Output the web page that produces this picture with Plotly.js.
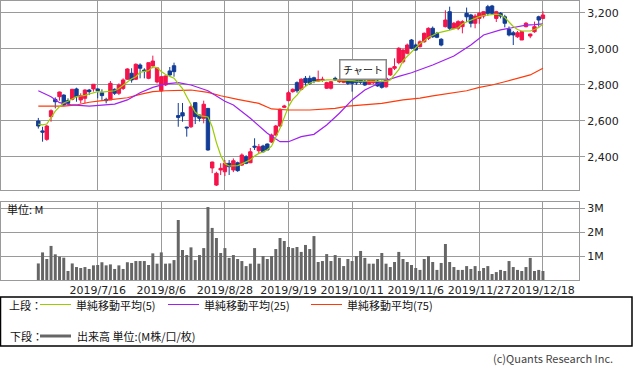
<!DOCTYPE html>
<html>
<head>
<meta charset="utf-8">
<script src="https://cdn.plot.ly/plotly-3.0.1.min.js"></script>
<style>html,body{margin:0;padding:0;background:#fff;}#chart{width:633px;height:371px;}</style>
</head>
<body>
<div id="chart"></div>
<script>
// ---- data (trading-day index 0..119) ----
const tickIdx = [14, 29, 44, 59, 74, 89, 104, 119];
const tickLabels = ["2019/7/16", "2019/8/6", "2019/8/28", "2019/9/19", "2019/10/11", "2019/11/6", "2019/11/27", "2019/12/18"];

const open = [2600,2545,2498,2624,2720,2735,2744,2713,2721,2778,
2717,2726,2772,2778,2778,2757,2720,2717,2776,2754,
2781,2832,2865,2832,2911,2883,2837,2906,2817,2768,
2800,2878,2907,2630,2646,2566,2568,2702,2633,2615,
2670,2339,2244,2328,2318,2365,2328,2368,2355,2401,
2368,2460,2435,2461,2472,2483,2522,2572,2676,2713,
2763,2813,2776,2837,2837,2840,2822,2825,2782,2782,
2837,2818,2815,2828,2828,2825,2828,2822,2805,2812,
2822,2818,2790,2856,2893,2924,2929,2976,3050,3022,
3013,3040,3059,3115,3087,3054,3124,3207,3115,3115,
3124,3198,3189,3143,3170,3183,3235,3239,3170,3198,
3179,3109,3090,3068,3050,3124,3072,3096,3179,3170];
const high = [2617,2568,2578,2665,2731,2763,2748,2726,2778,2785,
2754,2776,2778,2804,2781,2776,2729,2822,2781,2809,
2837,2893,2893,2920,2920,2893,2924,2963,2895,2850,
2852,2900,2924,2700,2700,2568,2689,2704,2635,2713,
2672,2374,2318,2365,2383,2383,2392,2374,2420,2410,
2450,2504,2472,2468,2475,2530,2578,2670,2690,2768,
2781,2820,2837,2850,2852,2846,2880,2846,2818,2822,
2846,2835,2840,2837,2835,2835,2840,2830,2835,2840,
2830,2825,2840,2895,2948,3010,3000,3030,3055,3030,
3048,3092,3120,3125,3095,3060,3215,3235,3150,3160,
3160,3230,3195,3195,3205,3210,3245,3245,3212,3205,
3190,3125,3100,3100,3100,3150,3085,3152,3185,3210];
const low = [2558,2485,2490,2596,2670,2713,2685,2689,2715,2707,
2698,2698,2744,2763,2726,2717,2698,2717,2744,2744,
2772,2828,2813,2828,2837,2837,2832,2893,2809,2761,
2795,2850,2846,2568,2596,2513,2561,2583,2597,2587,
2435,2310,2239,2300,2294,2300,2316,2318,2350,2360,
2366,2439,2422,2425,2439,2478,2518,2568,2672,2710,
2757,2757,2770,2795,2800,2810,2818,2818,2778,2775,
2822,2812,2810,2800,2763,2800,2805,2795,2800,2805,
2790,2780,2785,2850,2883,2915,2920,2970,2998,2990,
3008,3035,3050,3062,3060,3015,3120,3105,3110,3105,
3087,3150,3120,3115,3140,3170,3185,3190,3150,3170,
3120,3070,3022,3062,3050,3120,3060,3090,3124,3165];
const close = [2572,2538,2572,2657,2707,2761,2689,2698,2776,2735,
2741,2772,2763,2804,2768,2741,2713,2809,2754,2800,
2828,2889,2828,2915,2893,2878,2924,2933,2895,2846,
2850,2856,2874,2620,2628,2562,2679,2624,2615,2693,
2439,2372,2309,2337,2365,2346,2379,2324,2411,2365,
2429,2455,2457,2429,2439,2522,2572,2665,2683,2757,
2776,2768,2832,2813,2809,2822,2830,2832,2813,2818,
2828,2828,2828,2809,2809,2812,2815,2800,2825,2830,
2795,2787,2837,2893,2902,3004,2994,3022,3004,2994,
3040,3087,3115,3068,3065,3022,3161,3115,3143,3152,
3152,3179,3143,3183,3198,3207,3198,3198,3207,3183,
3143,3078,3078,3090,3096,3143,3083,3124,3161,3189];

const ma5 = [2583,2578,2583,2620,2655,2680,2700,2710,2722,2735,
2739,2742,2750,2757,2763,2760,2762,2763,2768,2780,
2800,2818,2835,2846,2870,2876,2880,2902,2895,2875,
2858,2848,2838,2808,2780,2735,2690,2648,2630,2624,
2622,2568,2480,2410,2362,2350,2350,2352,2362,2375,
2385,2405,2420,2428,2440,2460,2510,2560,2620,2680,
2720,2744,2775,2795,2810,2818,2822,2826,2828,2828,
2828,2828,2828,2826,2824,2822,2822,2820,2818,2818,
2818,2818,2820,2828,2856,2885,2935,2958,2985,3008,
3030,3045,3065,3075,3089,3094,3098,3105,3112,3118,
3140,3150,3161,3170,3180,3186,3189,3194,3194,3189,
3175,3150,3125,3108,3100,3100,3100,3108,3120,3139];

const ma25Idx = [0,3,5,8,12,15,18,21,24,27,30,33,36,40,42,44,46,50,54,57,59,62,65,68,71,74,77,81,85,88,93,98,102,105,109,112,115,117,119];
const ma25Val = [2768,2735,2702,2689,2683,2689,2694,2717,2757,2787,2806,2813,2800,2768,2740,2710,2689,2615,2532,2485,2485,2513,2526,2578,2643,2717,2772,2818,2848,2868,2911,2961,3022,3078,3106,3120,3133,3135,3139];

const ma75Idx = [0,6,9,12,15,18,21,24,27,30,33,36,40,43,47,52,55,59,64,70,73,76,81,86,90,93,97,101,104,107,110,113,116,119];
const ma75Val = [2683,2683,2689,2704,2713,2720,2729,2748,2763,2768,2772,2772,2759,2740,2720,2698,2667,2661,2661,2670,2683,2689,2698,2717,2727,2740,2754,2768,2787,2800,2818,2837,2856,2893];

const volume = [0.69,1.15,0.875,1.42,1.07,0.97,0.93,0.375,0.69,0.54,
0.5,0.54,0.46,0.61,0.625,0.74,0.61,0.65,0.46,0.61,
0.46,0.74,0.71,0.79,0.79,0.79,0.625,1.11,0.68,1.15,
0.68,0.69,0.83,2.5,1.25,1.04,1.36,0.83,1.04,1.33,
3.04,2.17,1.75,1.125,1.33,0.92,1.04,0.875,0.79,0.58,
0.68,1.33,0.68,1.0,0.875,1.0,1.29,1.75,1.625,1.375,
1.33,1.375,1.17,1.46,1.29,1.83,0.75,0.79,1.08,0.79,
1.04,0.92,0.58,0.875,0.79,1.0,1.21,0.92,0.68,0.68,
0.875,1.125,0.68,0.54,0.75,1.17,0.875,0.75,0.625,0.5,
0.42,0.875,1.0,0.75,0.42,0.71,1.5,0.75,0.54,0.42,
0.42,0.58,0.46,0.58,0.375,0.5,0.58,0.25,0.33,0.42,
0.375,0.79,0.54,0.42,0.375,0.54,0.92,0.375,0.42,0.375];

const priceTicks = [2400, 2600, 2800, 3000, 3200];
const priceTickText = ["2,400", "2,600", "2,800", "3,000", "3,200"];
const volTicks = [1, 2, 3];
const volTickText = ["1M", "2M", "3M"];

// ---- chart ----
const idx = close.map((_, i) => i);
const UP = "#f5134a", DOWN = "#123c96";
const GRID = "#9a9a9a";

// pixel -> paper helpers for the decorations
const W = 633, ML = 1, MR = 54, MT = 1, MB = 91, H = 371;
const PW = W - ML - MR, PH = H - MT - MB;
const px = X => (X - ML) / PW;
const py = Y => (H - MB - Y) / PH;

const traces = [
  {type: "candlestick", x: idx, open: open, high: high, low: low, close: close,
   xaxis: "x", yaxis: "y", whiskerwidth: 0,
   increasing: {line: {color: UP, width: 1}, fillcolor: UP},
   decreasing: {line: {color: DOWN, width: 1}, fillcolor: DOWN},
   hoverinfo: "skip"},
  {type: "scatter", mode: "lines", x: ma75Idx, y: ma75Val, xaxis: "x", yaxis: "y",
   line: {color: "#ff3a0a", width: 1.2}, hoverinfo: "skip"},
  {type: "scatter", mode: "lines", x: ma25Idx, y: ma25Val, xaxis: "x", yaxis: "y",
   line: {color: "#a020f0", width: 1.2}, hoverinfo: "skip"},
  {type: "scatter", mode: "lines", x: idx, y: ma5, xaxis: "x", yaxis: "y",
   line: {color: "#9acd00", width: 1.2}, hoverinfo: "skip"},
  {type: "bar", x: idx, y: volume, xaxis: "x2", yaxis: "y2", width: 0.7,
   marker: {color: "#666666", line: {width: 0}}, hoverinfo: "skip"}
];

const tickFont = {family: "DejaVu Sans", size: 11, color: "#222"};
const xCommon = {range: [-8.8, 127.5], tickvals: tickIdx, showgrid: true, gridcolor: GRID, gridwidth: 1,
  zeroline: false, showline: true, mirror: true, linecolor: GRID, linewidth: 1, ticks: "", fixedrange: true};

const jp = "Noto Sans CJK JP";
const legendY1 = 304.5, legendY2 = 336;
const lf = {family: jp, size: 11, color: "#111"};
const annotations = [
  {text: "チャート", xref: "paper", yref: "paper", x: px(362.5), y: py(69.5), showarrow: false,
   font: {family: jp, size: 10, color: "#111"}, bgcolor: "#fff", bordercolor: "#888", borderwidth: 1.5,
   borderpad: 2, width: 41, height: 14, xanchor: "center", yanchor: "middle"},
  {text: "単位: M", xref: "paper", yref: "paper", x: px(5), y: py(209), showarrow: false,
   font: lf, xanchor: "left", yanchor: "middle"},
  {text: "上段：", xref: "paper", yref: "paper", x: px(8), y: py(legendY1), showarrow: false,
   font: lf, xanchor: "left", yanchor: "middle", borderpad: 0},
  {text: "単純移動平均(5)", xref: "paper", yref: "paper", x: px(75), y: py(legendY1), showarrow: false,
   font: lf, xanchor: "left", yanchor: "middle", borderpad: 0},
  {text: "単純移動平均(25)", xref: "paper", yref: "paper", x: px(203), y: py(legendY1), showarrow: false,
   font: lf, xanchor: "left", yanchor: "middle", borderpad: 0},
  {text: "単純移動平均(75)", xref: "paper", yref: "paper", x: px(346), y: py(legendY1), showarrow: false,
   font: lf, xanchor: "left", yanchor: "middle", borderpad: 0},
  {text: "下段：", xref: "paper", yref: "paper", x: px(8), y: py(legendY2), showarrow: false,
   font: lf, xanchor: "left", yanchor: "middle"},
  {text: "出来高 単位:(M株/口/枚)", xref: "paper", yref: "paper", x: px(75), y: py(legendY2), showarrow: false,
   font: lf, xanchor: "left", yanchor: "middle"},
  {text: "(c)Quants Research Inc.", xref: "paper", yref: "paper", x: px(615), y: py(358), showarrow: false,
   font: {family: jp, size: 11, color: "#444"}, xanchor: "right", yanchor: "middle"}
];

const shapes = [
  {type: "rect", xref: "paper", yref: "paper", x0: px(0.5), x1: px(632), y0: py(297), y1: py(346),
   line: {color: "#000", width: 1.5}, fillcolor: "rgba(0,0,0,0)"},
  {type: "line", xref: "paper", yref: "paper", x0: px(40), x1: px(71), y0: py(legendY1), y1: py(legendY1),
   line: {color: "#9acd00", width: 1}},
  {type: "line", xref: "paper", yref: "paper", x0: px(168), x1: px(199), y0: py(legendY1), y1: py(legendY1),
   line: {color: "#a020f0", width: 1}},
  {type: "line", xref: "paper", yref: "paper", x0: px(311), x1: px(342), y0: py(legendY1), y1: py(legendY1),
   line: {color: "#ff3a0a", width: 1}},
  {type: "line", xref: "paper", yref: "paper", x0: px(40), x1: px(71), y0: py(legendY2), y1: py(legendY2),
   line: {color: "#666", width: 3}}
];

const layout = {
  width: W, height: H,
  margin: {l: ML, r: MR, t: MT, b: MB, pad: 0},
  paper_bgcolor: "#fff", plot_bgcolor: "#fff",
  showlegend: false,
  boxgap: 0, boxgroupgap: 0.2,
  bargap: 0.3,
  xaxis: Object.assign({}, xCommon, {anchor: "y", showticklabels: false, rangeslider: {visible: false}}),
  xaxis2: Object.assign({}, xCommon, {anchor: "y2", matches: "x", showticklabels: true, ticktext: tickLabels,
    tickfont: tickFont, tickmode: "array", tickangle: 0}),
  yaxis: {domain: [py(190), 1], anchor: "x", side: "right", range: [2216.6, 3266.6],
    tickmode: "array", tickvals: priceTicks, ticktext: priceTickText, tickfont: tickFont,
    ticks: "outside", ticklen: 5, tickcolor: GRID, showgrid: true, gridcolor: GRID, zeroline: false,
    showline: true, mirror: true, linecolor: GRID, fixedrange: true},
  yaxis2: {domain: [0, py(202)], anchor: "x2", side: "right", range: [0, 3.25],
    tickmode: "array", tickvals: volTicks, ticktext: volTickText, tickfont: tickFont,
    ticks: "outside", ticklen: 5, tickcolor: GRID, showgrid: true, gridcolor: GRID, zeroline: false,
    showline: true, mirror: true, linecolor: GRID, fixedrange: true},
  annotations: annotations,
  shapes: shapes
};

Plotly.newPlot("chart", traces, layout, {staticPlot: true, displayModeBar: false});
</script>
</body>
</html>
